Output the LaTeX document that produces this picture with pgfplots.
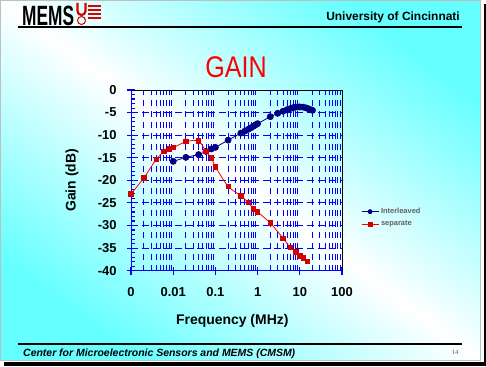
\documentclass[border=0pt]{standalone}
\usepackage{pgfplots}
\pgfplotsset{compat=1.18}
\usepackage{fontspec}
\setmainfont{Liberation Sans}
\newfontfamily\serifnum{Liberation Serif}
\definecolor{slidecyan}{RGB}{102,255,255}
\definecolor{navy}{RGB}{0,0,128}
\definecolor{gridblue}{RGB}{0,0,255}
\definecolor{sepred}{RGB}{255,0,0}
\definecolor{mkred}{RGB}{210,0,0}

\pgfplotstableread{
f g
0.01 -15.8
0.02 -14.9
0.04 -14.3
0.06 -13.6
0.08 -13.05
0.1 -12.7
0.2 -11.1
0.4 -9.55
0.5 -9.1
0.6 -8.7
0.7 -8.35
0.8 -8.0
0.9 -7.7
1.0 -7.45
2 -5.9
3 -5.15
4 -4.7
5 -4.35
6 -4.1
7 -3.9
8 -3.8
9 -3.75
10 -3.75
12 -3.8
14 -3.95
16 -4.15
18 -4.35
20 -4.5
}\interleaved

\pgfplotstableread{
f g
0.001 -23.0
0.002 -19.5
0.004 -15.3
0.006 -13.65
0.008 -13.06
0.01 -12.77
0.02 -11.44
0.04 -11.29
0.06 -13.65
0.08 -15.0
0.1 -17.0
0.2 -21.3
0.4 -23.4
0.6 -24.9
0.8 -26.3
1.0 -27.0
2 -29.45
4 -32.8
6 -34.9
8 -35.8
10 -36.7
12 -37.2
15 -37.9
}\separate

\begin{document}
\begin{tikzpicture}[x=1bp,y=1bp]
\useasboundingbox (0,0) rectangle (486,366);
% slide frame and shadow
\fill[white] (0,0) rectangle (486,366);
\fill[black] (4,0) rectangle (486,362);
\fill[white] (0,4.5) rectangle (483.5,366);
\shade[top color=slidecyan,bottom color=slidecyan,middle color=white,shading angle=-37] (0,5.5) rectangle (481,366);
\draw[gray!50,line width=1] (0.5,6) rectangle (480.5,365.5);
% header
\node[anchor=base west,inner sep=0] at (22,341) {\scalebox{0.62}[1]{\fontsize{28}{28}\selectfont\bfseries MEMS}};
\draw[red!85!black,line width=2.2] (77.5,363) -- (77.5,355) arc[start angle=180,end angle=360,radius=4] -- (85.5,363);
\foreach \yy in {6,10,14,18} {\draw[red!85!black,line width=1.3] (88,366-\yy) -- (101,366-\yy);}
\draw[red!85!black,line width=1] (81.5,345.5) circle (4);
\node[anchor=east,inner sep=0] at (460,349) {\fontsize{12}{12}\selectfont\bfseries University of Cincinnati};
\draw[line width=2] (18,339) -- (462,339);
% title
\node[sepred] at (236,299) {\scalebox{0.84}[1]{\fontsize{30}{30}\selectfont GAIN}};
% footer
\draw[line width=2] (18,22.5) -- (462,22.5);
\node[anchor=west,inner sep=0] at (23,12) {\fontsize{10.5}{10.5}\selectfont\bfseries\itshape Center for Microelectronic Sensors and MEMS (CMSM)};
\node[gray!70!black] at (455,14) {\serifnum\fontsize{6.5}{6.5}\selectfont 14};

\begin{axis}[
  at={(131bp,95.3bp)}, anchor=south west,
  scale only axis, width=211bp, height=180.7bp,
  xmode=log, xmin=0.001, xmax=100, ymin=-40, ymax=0,
  axis line style={black, line width=0.8bp},
  tick style={gridblue, line width=1.1bp},
  tick align=center,
  major tick length=8bp,
  minor tick length=4bp,
  xtick={0.001,0.01,0.1,1,10,100},
  xticklabels={0,0.01,0.1,1,10,100},
  minor xtick={0.002,0.003,0.004,0.005,0.006,0.007,0.008,0.009,
    0.02,0.03,0.04,0.05,0.06,0.07,0.08,0.09,
    0.2,0.3,0.4,0.5,0.6,0.7,0.8,0.9,
    2,3,4,5,6,7,8,9,20,30,40,50,60,70,80,90},
  ytick={-40,-35,-30,-25,-20,-15,-10,-5,0},
  yticklabels={-40,-35,-30,-25,-20,-15,-10,-5,0},
  minor ytick={-39,-38,...,-1},
  xtick pos=bottom, ytick pos=left,
  xminorgrids=true, ymajorgrids=true,
  minor grid style={gridblue, dash pattern=on 6bp off 5bp, line width=0.9bp},
  major grid style={gridblue, dash pattern=on 7bp off 4bp, line width=0.9bp},
  minor x tick style={draw=none},
  minor y tick style={xshift=2bp},
  /pgf/number format/assume math mode=true,
  tick label style={font=\fontsize{13}{13}\selectfont\bfseries},
  yticklabel style={xshift=-7bp},
  xticklabel style={yshift=-9bp},
  label style={font=\fontsize{14}{14}\selectfont\bfseries},
  xlabel={Frequency (MHz)}, ylabel={Gain (dB)},
  xlabel style={at={(axis description cs:0.48,-0.28)},anchor=center},
  ylabel style={at={(axis description cs:-0.28,0.5)},anchor=center},
  legend style={at={(axis description cs:1.076,0.369)},anchor=north west,draw=none,fill=none,
    font=\fontsize{7.5}{8}\selectfont\bfseries,text=gray!75!black,row sep=2bp},
  legend cell align=left,
  legend image post style={mark size=2bp},
]
\addplot[navy, line width=0.8bp, mark=*, mark size=3bp, mark options={fill=navy,draw=navy}] table[x=f,y=g] {\interleaved};
\addlegendentry{Interleaved}
\addplot[sepred, line width=0.8bp, smooth, tension=0.5, mark=square*, mark size=2.2bp, mark options={fill=mkred,draw=mkred}] table[x=f,y=g] {\separate};
\addlegendentry{separate}
\draw[gridblue,line width=1.2bp] (rel axis cs:0,0) -- (rel axis cs:0,1);
\draw[gridblue,line width=1.2bp] (rel axis cs:0,0) -- (rel axis cs:1,0);
\end{axis}
\end{tikzpicture}
\end{document}
